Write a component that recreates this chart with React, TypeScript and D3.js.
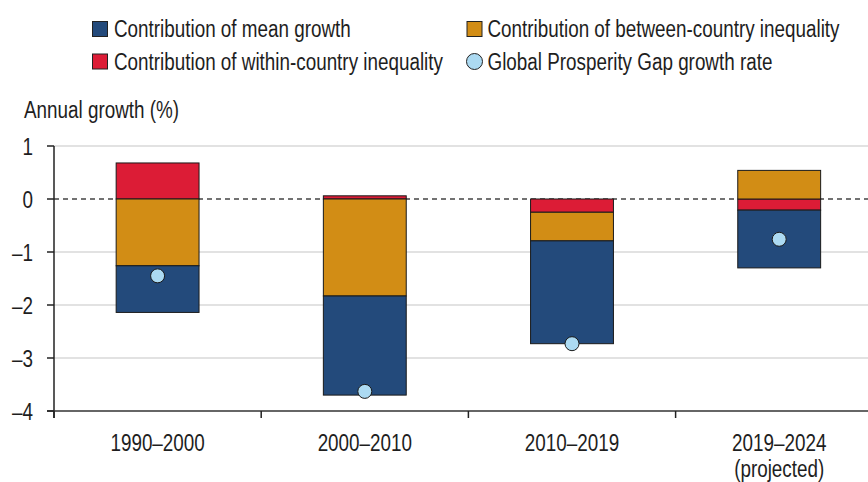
import React from "react";
import * as d3 from "d3";

const categories = ["1990–2000", "2000–2010", "2010–2019", "2019–2024"];
const subLabels = ["", "", "", "(projected)"];
const meanGrowth = [-0.88, -1.87, -1.94, -1.09];
const betweenIneq = [-1.26, -1.83, -0.54, 0.54];
const withinIneq = [0.68, 0.06, -0.25, -0.21];
const gapGrowth = [-1.45, -3.63, -2.73, -0.76];
const yTicks = [1, 0, -1, -2, -3, -4];

const keys = ["within", "between", "mean"];
const colors: Record<string, string> = {
  mean: "#234a7b",
  between: "#d28d15",
  within: "#dc1c36",
};
const dotColor = "#acdaf2";
const FONT = "'Liberation Sans', Arial, sans-serif";
const SX = 0.82;

function T({ x, y, anchor = "start", size = 23, children }: any) {
  return (
    <text
      transform={`translate(${x},${y}) scale(${SX},1)`}
      textAnchor={anchor}
      fontSize={size}
      fill="#1e1e1e"
      fontFamily={FONT}
    >
      {children}
    </text>
  );
}

export default function App() {
  const W = 868, H = 482;
  const x0 = 54, y0 = 146, yBottom = 411;
  const x = d3.scaleBand<string>().domain(categories).range([x0, x0 + 4 * 207.2]).paddingInner(0).paddingOuter(0);
  const y = d3.scaleLinear().domain([1, -4]).range([y0, yBottom]);
  const table = categories.map((c, i) => ({
    cat: c,
    mean: meanGrowth[i],
    between: betweenIneq[i],
    within: withinIneq[i],
  }));
  const series = d3.stack<any>().keys(keys).offset(d3.stackOffsetDiverging)(table);
  const barW = x.bandwidth() * 0.4;
  const cx = (c: string) => (x(c) as number) + x.bandwidth() / 2;

  return (
    <svg width={W} height={H} style={{ position: "absolute", left: 0, top: 0, background: "#fff" }}>
      {/* legend */}
      <rect x={92.5} y={21.5} width={15} height={15} fill={colors.mean} stroke="#222" strokeWidth={1} />
      <T x={114} y={37}>Contribution of mean growth</T>
      <rect x={467} y={21.5} width={15} height={15} fill={colors.between} stroke="#222" strokeWidth={1} />
      <T x={487.5} y={37}>Contribution of between-country inequality</T>
      <rect x={92.5} y={54} width={15} height={15} fill={colors.within} stroke="#222" strokeWidth={1} />
      <T x={114} y={70}>Contribution of within-country inequality</T>
      <circle cx={474.5} cy={61.5} r={8} fill={dotColor} stroke="#222" strokeWidth={1} />
      <T x={487.5} y={70}>Global Prosperity Gap growth rate</T>

      <T x={24} y={118}>Annual growth (%)</T>

      {/* gridlines */}
      {yTicks.filter((t) => t !== 0 && t !== -4).map((t) => (
        <line key={t} x1={x0} x2={W} y1={y(t)} y2={y(t)} stroke="#d9d9d9" strokeWidth={1.5} />
      ))}
      <line x1={x0} x2={W} y1={y(0)} y2={y(0)} stroke="#444" strokeWidth={1.5} strokeDasharray="5,4" />

      {/* bars */}
      {series.map((s) => (
        <g key={s.key} fill={colors[s.key]}>
          {s.map((d, i) => {
            if (Math.abs(d[1] - d[0]) < 1e-9) return null;
            const top = y(Math.max(d[0], d[1]));
            const bot = y(Math.min(d[0], d[1]));
            return (
              <rect key={i} x={cx(categories[i]) - barW / 2} y={top} width={barW} height={bot - top} stroke="#1a1a1a" strokeWidth={1} />
            );
          })}
        </g>
      ))}

      {/* dots */}
      {gapGrowth.map((v, i) => (
        <circle key={i} cx={cx(categories[i])} cy={y(v)} r={7} fill={dotColor} stroke="#1a1a1a" strokeWidth={1} />
      ))}

      {/* axes */}
      <line x1={x0} x2={x0} y1={y0} y2={yBottom + 7} stroke="#222" strokeWidth={1.5} />
      <line x1={x0 - 7} x2={W} y1={yBottom} y2={yBottom} stroke="#333" strokeWidth={1.5} />
      {yTicks.map((t) => (
        <g key={t}>
          <line x1={x0 - 7} x2={x0} y1={y(t)} y2={y(t)} stroke="#222" strokeWidth={1.5} />
          <T x={33} y={y(t) + 8.5} anchor="end">
            {t < 0 ? "–" + Math.abs(t) : String(t)}
          </T>
        </g>
      ))}
      {categories.map((c) => (
        <line key={c} x1={x(c) as number} x2={x(c) as number} y1={yBottom} y2={yBottom + 7} stroke="#222" strokeWidth={1.5} />
      ))}
      {categories.map((c, i) => (
        <g key={c}>
          <T x={cx(c)} y={451} anchor="middle">{c}</T>
          {subLabels[i] && <T x={cx(c)} y={477} anchor="middle">{subLabels[i]}</T>}
        </g>
      ))}
    </svg>
  );
}
